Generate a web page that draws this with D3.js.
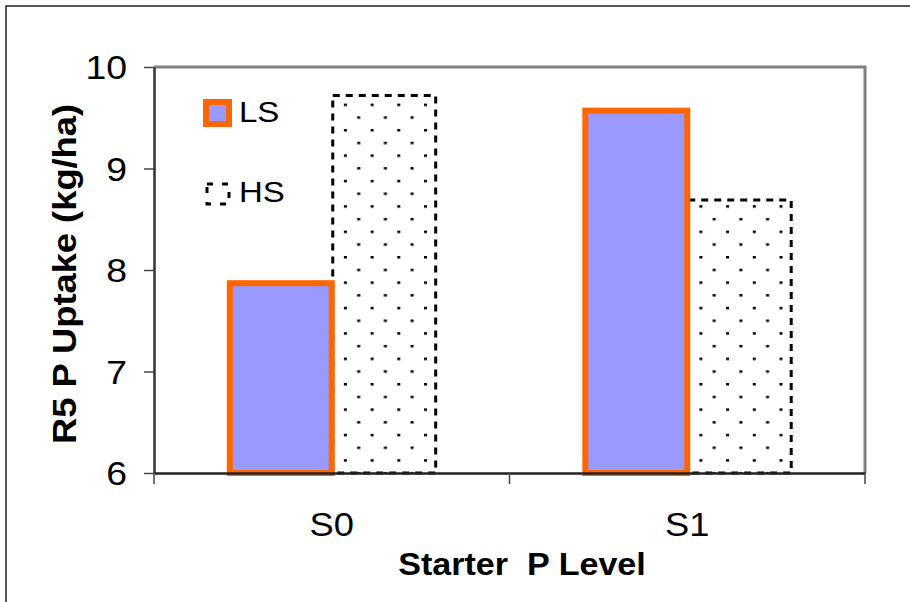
<!DOCTYPE html>
<html>
<head>
  <meta charset="utf-8">
  <title>R5 P Uptake</title>
  <style type="text/css">
    body { margin: 0; background-color: #fff; }
    svg { display: block; }
    text { font-family: "Liberation Sans", Arial, sans-serif; fill: #000; }
  </style>
  <script src="https://d3js.org/d3.v7.min.js"></script>
</head>
<body>
<script>
// data
var categories = ["S0", "S1"];
var series = ["LS", "HS"];
var lsValues = [7.87, 9.57];
var hsValues = [9.72, 8.69];
var yTicks = [6, 7, 8, 9, 10];

var W = 910, H = 602;
var plot = {left: 154, right: 865, top: 67, bottom: 473};
var SX = 1.1; // the original text is a little wider than Arial

var svg = d3.select("body").append("svg")
  .attr("width", W)
  .attr("height", H);

// text helper: position + horizontal stretch
function label(parent, x, y, str, size, anchor, bold, rot) {
  var g = parent.append("g")
    .attr("transform", "translate(" + x + "," + y + ")" + (rot ? " rotate(" + rot + ")" : "") + " scale(" + SX + ",1)");
  return g.append("text")
    .attr("text-anchor", anchor || "start")
    .attr("font-size", size)
    .attr("font-weight", bold ? "bold" : "normal")
    .attr("xml:space", "preserve")
    .text(str);
}

// dotted fill for the HS bars
var defs = svg.append("defs");
var pat = defs.append("pattern")
  .attr("id", "dots")
  .attr("patternUnits", "userSpaceOnUse")
  .attr("width", 26.7)
  .attr("height", 25.4)
  .attr("x", 3).attr("y", 2);
pat.append("rect").attr("width", 26.7).attr("height", 25.4).attr("fill", "#fff");
pat.append("rect").attr("x", 0).attr("y", 0).attr("width", 3).attr("height", 2.5).attr("fill", "#000");
pat.append("rect").attr("x", 13.3).attr("y", 12.7).attr("width", 3).attr("height", 2.5).attr("fill", "#000");

// outer chart frame
svg.append("path")
  .attr("d", "M6," + H + "V6H" + W)
  .attr("fill", "none")
  .attr("stroke", "#222")
  .attr("stroke-width", 1.5);

var x0 = d3.scaleBand()
  .domain(categories)
  .range([plot.left, plot.right]);

var x1 = d3.scaleBand()
  .domain(series)
  .range([0, x0.bandwidth()])
  .paddingOuter(0.71);

var y = d3.scaleLinear()
  .domain([6, 10])
  .range([plot.bottom, plot.top]);

// gray plot border (top + right)
svg.append("path")
  .attr("d", "M" + plot.left + "," + y(10) + "H" + plot.right + "V" + plot.bottom)
  .attr("fill", "none")
  .attr("stroke", "#808080")
  .attr("stroke-width", 3);

var data = categories.map(function(c, i) {
  return {cat: c, LS: lsValues[i], HS: hsValues[i]};
});

var groups = svg.selectAll("g.grp").data(data)
  .enter().append("g")
  .attr("class", "grp")
  .attr("transform", function(d) { return "translate(" + x0(d.cat) + ",0)"; });

// HS bars
groups.append("rect")
  .attr("x", x1("HS") + 1)
  .attr("y", function(d) { return y(d.HS); })
  .attr("width", x1.bandwidth() - 1)
  .attr("height", function(d) { return y(6) - y(d.HS); })
  .attr("fill", "url(#dots)")
  .attr("stroke", "#000")
  .attr("stroke-width", 3)
  .attr("stroke-dasharray", "7,6");

// LS bars
groups.append("rect")
  .attr("x", x1("LS") + 2)
  .attr("y", function(d) { return y(d.LS); })
  .attr("width", x1.bandwidth() - 2)
  .attr("height", function(d) { return y(6) - y(d.LS); })
  .attr("fill", "#9999ff")
  .attr("stroke", "#ff6600")
  .attr("stroke-width", 6);

// y axis
var yAxis = d3.axisLeft(y).tickValues(yTicks).tickSize(10).tickFormat(d3.format("d")).tickSizeOuter(0);
var gy = svg.append("g")
  .attr("transform", "translate(" + plot.left + ",0)")
  .call(yAxis);
gy.select(".domain").attr("stroke", "#333").attr("stroke-width", 2.5);
gy.selectAll(".tick line").attr("stroke", "#444").attr("stroke-width", 1.5);
gy.selectAll(".tick text").remove();
yTicks.forEach(function(t) {
  label(svg, 127, y(t) + 12, d3.format("d")(t), 34, "end");
});

// x axis with ticks at category boundaries
var xAxis = d3.axisBottom(x0).tickSize(0).tickSizeOuter(0);
var gx = svg.append("g")
  .attr("transform", "translate(0," + plot.bottom + ")")
  .call(xAxis);
gx.select(".domain").attr("stroke", "#222").attr("stroke-width", 2.5);
gx.selectAll(".tick text").remove();
categories.forEach(function(c) {
  label(svg, x0(c) + x0.bandwidth() / 2, 536, c, 33, "middle");
});

var bounds = [plot.left].concat(categories.map(function(c) { return x0(c) + x0.bandwidth(); }));
svg.selectAll("line.xt").data(bounds)
  .enter().append("line")
  .attr("class", "xt")
  .attr("x1", function(d) { return d; })
  .attr("x2", function(d) { return d; })
  .attr("y1", plot.bottom)
  .attr("y2", plot.bottom + 11)
  .attr("stroke", "#444")
  .attr("stroke-width", 1.5);

// axis titles
label(svg, 522, 575, "Starter  P Level", 31, "middle", true);
label(svg, 76, 274, "R5 P Uptake (kg/ha)", 33, "middle", true, -90);

// legend
var legend = svg.append("g");
legend.append("rect")
  .attr("x", 206).attr("y", 102)
  .attr("width", 23).attr("height", 22)
  .attr("fill", "#9999ff")
  .attr("stroke", "#ff6600")
  .attr("stroke-width", 6);
legend.append("rect")
  .attr("x", 207).attr("y", 184)
  .attr("width", 22).attr("height", 20)
  .attr("fill", "none")
  .attr("stroke", "#000")
  .attr("stroke-width", 3)
  .attr("stroke-dasharray", "6,9");
series.forEach(function(s, i) {
  label(legend, 239, 122 + i * 80, s, 30, "start");
});
</script>
</body>
</html>
